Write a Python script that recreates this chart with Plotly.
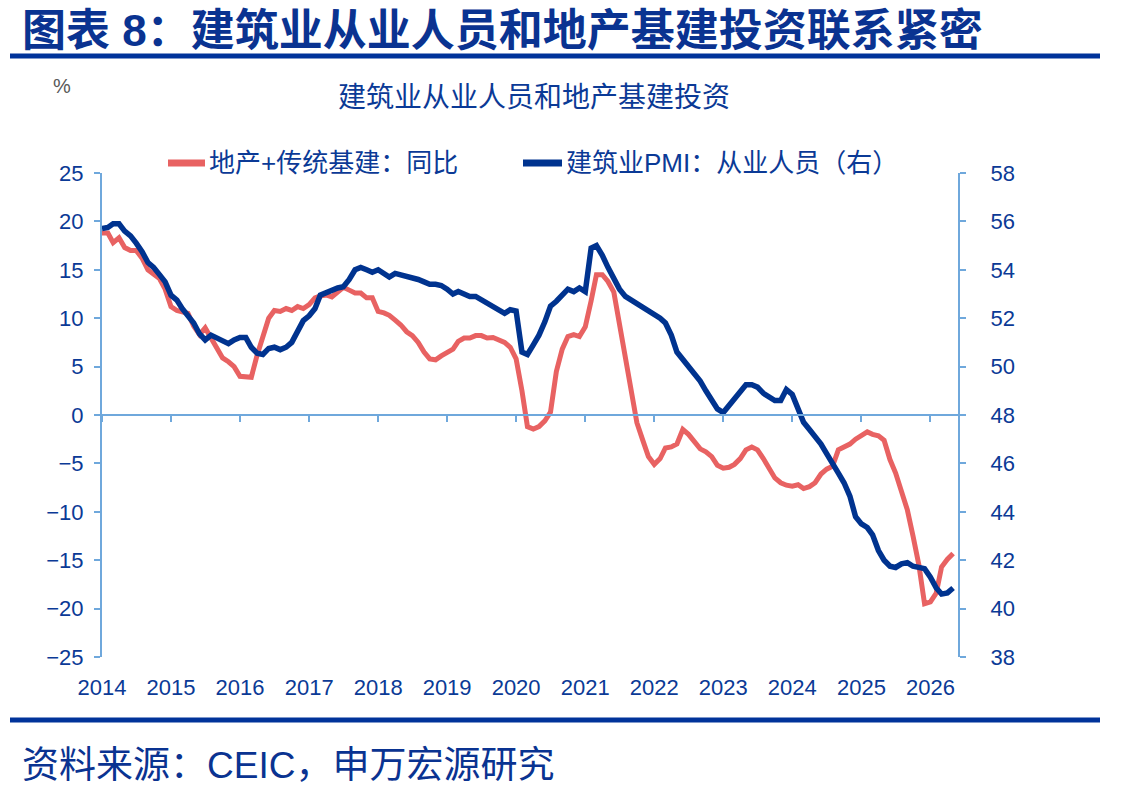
import pandas as pd
import plotly.graph_objects as go

# ---------------- data (monthly, 2014-01 .. 2026-05) ----------------
start_month = "2014-01-01"
invest_yoy = [
    18.8, 18.8, 17.8, 18.3, 17.3, 17.0, 17.0, 16.2, 15.0, 14.5, 14.1, 13.0,   # 2014
    11.2, 10.8, 10.6, 10.5, 9.2, 8.3, 9.0, 8.0, 7.0, 5.9, 5.5, 5.0,             # 2015
    4.0, 3.95, 3.9, 6.2, 8.0, 10.0, 10.8, 10.7, 11.0, 10.8, 11.2, 11.0,         # 2016
    11.4, 12.1, 12.3, 12.4, 12.2, 12.7, 13.2, 12.9, 12.6, 12.6, 12.1, 12.1,     # 2017
    10.7, 10.55, 10.3, 9.8, 9.3, 8.6, 8.2, 7.5, 6.5, 5.8, 5.7, 6.1,             # 2018
    6.4, 6.8, 7.6, 7.95, 7.95, 8.2, 8.2, 7.95, 8.0, 7.8, 7.5, 7.0,              # 2019
    5.8, 2.5, -1.2, -1.45, -1.2, -0.6, 0.3, 4.5, 6.8, 8.1, 8.3, 8.1,            # 2020
    9.1, 11.8, 14.5, 14.5, 13.8, 12.7, 9.3, 5.7, 2.4, -0.8, -2.6, -4.3,         # 2021
    -5.1, -4.5, -3.4, -3.3, -3.0, -1.5, -2.0, -2.8, -3.5, -3.8, -4.3, -5.2,     # 2022
    -5.5, -5.4, -5.1, -4.5, -3.6, -3.3, -3.6, -4.5, -5.6, -6.5, -7.0, -7.25,    # 2023
    -7.35, -7.2, -7.6, -7.4, -7.0, -6.1, -5.6, -5.3, -3.6, -3.3, -3.0, -2.5,    # 2024
    -2.1, -1.75, -2.0, -2.15, -2.6, -4.6, -6.0, -7.8, -9.8, -12.5, -15.5, -19.5,  # 2025
    -19.3, -18.4, -15.7, -14.9, -14.3,                                          # 2026
]
pmi_employment = [
    55.7, 55.75, 55.9, 55.9, 55.6, 55.4, 55.1, 54.75, 54.3, 54.1, 53.8, 53.5,   # 2014
    52.95, 52.75, 52.4, 52.1, 51.8, 51.35, 51.1, 51.3, 51.2, 51.1, 50.95, 51.1, # 2015
    51.2, 51.2, 50.8, 50.55, 50.5, 50.75, 50.8, 50.7, 50.8, 51.0, 51.5, 51.9,   # 2016
    52.1, 52.4, 52.95, 53.05, 53.2, 53.25, 53.3, 53.6, 54.0, 54.1, 54.0, 53.9,  # 2017
    54.0, 53.85, 53.7, 53.85, 53.8, 53.7, 53.65, 53.6, 53.5, 53.4, 53.4, 53.35, # 2018
    53.2, 53.0, 53.1, 53.0, 52.9, 52.9, 52.75, 52.65, 52.5, 52.3, 52.2, 52.35,  # 2019
    52.3, 50.6, 50.5, 50.9, 51.3, 51.85, 52.5, 52.7, 52.95, 53.2, 53.1, 53.25,  # 2020
    53.1, 54.9, 55.0, 54.6, 54.1, 53.6, 53.2, 52.9, 52.75, 52.65, 52.5, 52.3,   # 2021
    52.2, 52.0, 51.8, 51.3, 50.6, 50.3, 49.95, 49.65, 49.4, 49.0, 48.6, 48.25,  # 2022
    48.1, 48.4, 48.6, 48.9, 49.25, 49.25, 49.15, 48.9, 48.75, 48.6, 48.6, 49.05,  # 2023
    48.85, 48.3, 47.7, 47.4, 47.1, 46.8, 46.4, 45.95, 45.6, 45.2, 44.65, 43.8,  # 2024
    43.5, 43.35, 43.05, 42.4, 42.0, 41.75, 41.7, 41.85, 41.9, 41.75, 41.7, 41.65,  # 2025
    41.3, 40.85, 40.6, 40.65, 40.85,                                            # 2026
]
year_ticks = list(range(2014, 2027))
left_ticks = list(range(-25, 26, 5))
right_ticks = list(range(38, 59, 2))

dates = pd.date_range(start_month, periods=len(invest_yoy), freq="MS")
tick_dates = [pd.Timestamp(f"{y}-01-01") for y in year_ticks]
tick_text = [str(y) for y in year_ticks]

# ---------------- styling ----------------
W, H = 1145, 797
L, R, T, B = 102, 958, 173, 657
RED = "#E86262"
BLUE = "#00338F"
AXIS = "#6FA8DC"
TXT = "#0B3A96"
TITLE = "#0A3391"
FONT = "Liberation Sans, Noto Sans CJK SC, sans-serif"


def px(x):
    return (x - L) / (R - L)


def py(y):
    return (B - y) / (B - T)


fig = go.Figure()
fig.add_trace(go.Scatter(x=dates, y=invest_yoy, mode="lines", name="地产+传统基建：同比",
                         line=dict(color=RED, width=5), yaxis="y", xaxis="x"))
fig.add_trace(go.Scatter(x=dates, y=pmi_employment, mode="lines", name="建筑业PMI：从业人员（右）",
                         line=dict(color=BLUE, width=5.5), yaxis="y2", xaxis="x"))
# helper trace so the zero-crossing axis (x2) is drawn
fig.add_trace(go.Scatter(x=[dates[0]], y=[None], xaxis="x2", yaxis="y",
                         showlegend=False, hoverinfo="skip"))

xrange = ["2014-01-01", "2026-05-27"]
fig.update_layout(
    width=W, height=H,
    margin=dict(l=L, r=W - R, t=T, b=H - B, pad=0),
    paper_bgcolor="white", plot_bgcolor="white",
    font=dict(family=FONT, color=TXT),
    showlegend=False,
    xaxis=dict(type="date", range=xrange, showgrid=False, zeroline=False, showline=False,
               tickvals=tick_dates, ticktext=tick_text, ticks="outside", ticklen=11,
               tickcolor="rgba(0,0,0,0)", tickfont=dict(size=22, color=TXT, family=FONT)),
    xaxis2=dict(type="date", range=xrange, overlaying="x", anchor="free", position=0.5,
                showgrid=False, zeroline=False, showline=True, linecolor=AXIS, linewidth=2,
                tickvals=tick_dates, ticks="outside", ticklen=6, tickwidth=2, tickcolor=AXIS,
                showticklabels=False),
    yaxis=dict(range=[-25, 25], tickvals=left_ticks, showgrid=False, zeroline=False,
               showline=True, linecolor=AXIS, linewidth=2, ticks="outside", ticklen=6,
               tickwidth=2, tickcolor=AXIS, ticklabelstandoff=6,
               tickfont=dict(size=22, color=TXT, family=FONT)),
    yaxis2=dict(range=[38, 58], tickvals=right_ticks, overlaying="y", side="right",
                showgrid=False, zeroline=False, showline=True, linecolor=AXIS, linewidth=2,
                ticks="outside", ticklen=6, tickwidth=2, tickcolor=AXIS, ticklabelstandoff=20,
                tickfont=dict(size=22, color=TXT, family=FONT)),
)

shapes = [
    dict(type="line", xref="paper", yref="paper", x0=px(10), x1=px(1100), y0=py(56), y1=py(56),
         line=dict(color="#00339A", width=5)),
    dict(type="line", xref="paper", yref="paper", x0=px(10), x1=px(1100), y0=py(720), y1=py(720),
         line=dict(color="#00339A", width=5)),
    # legend samples
    dict(type="line", xref="paper", yref="paper", x0=px(168), x1=px(205), y0=py(163), y1=py(163),
         line=dict(color=RED, width=7)),
    dict(type="line", xref="paper", yref="paper", x0=px(523), x1=px(562), y0=py(163), y1=py(163),
         line=dict(color=BLUE, width=7)),
]
fig.update_layout(shapes=shapes)

ann = [
    dict(text="<b>图表 8：建筑业从业人员和地产基建投资联系紧密</b>", x=px(20), y=py(30),
         xanchor="left", yanchor="middle", font=dict(size=44, color=TITLE, family=FONT)),
    dict(text="%", x=px(62), y=py(86), xanchor="center", yanchor="middle",
         font=dict(size=20, color="#595959", family=FONT)),
    dict(text="建筑业从业人员和地产基建投资", x=px(534), y=py(97), xanchor="center", yanchor="middle",
         font=dict(size=28, color=TXT, family=FONT)),
    dict(text="地产+传统基建：同比", x=px(207), y=py(163), xanchor="left", yanchor="middle",
         font=dict(size=26, color=TXT, family=FONT)),
    dict(text="建筑业PMI：从业人员（右）", x=px(564), y=py(163), xanchor="left", yanchor="middle",
         font=dict(size=26, color=TXT, family=FONT)),
    dict(text="资料来源：CEIC，申万宏源研究", x=px(20), y=py(765), xanchor="left", yanchor="middle",
         font=dict(size=37, color=TITLE, family=FONT)),
]
for a in ann:
    a.update(xref="paper", yref="paper", showarrow=False)
fig.update_layout(annotations=ann)

fig.write_html("out.html")
